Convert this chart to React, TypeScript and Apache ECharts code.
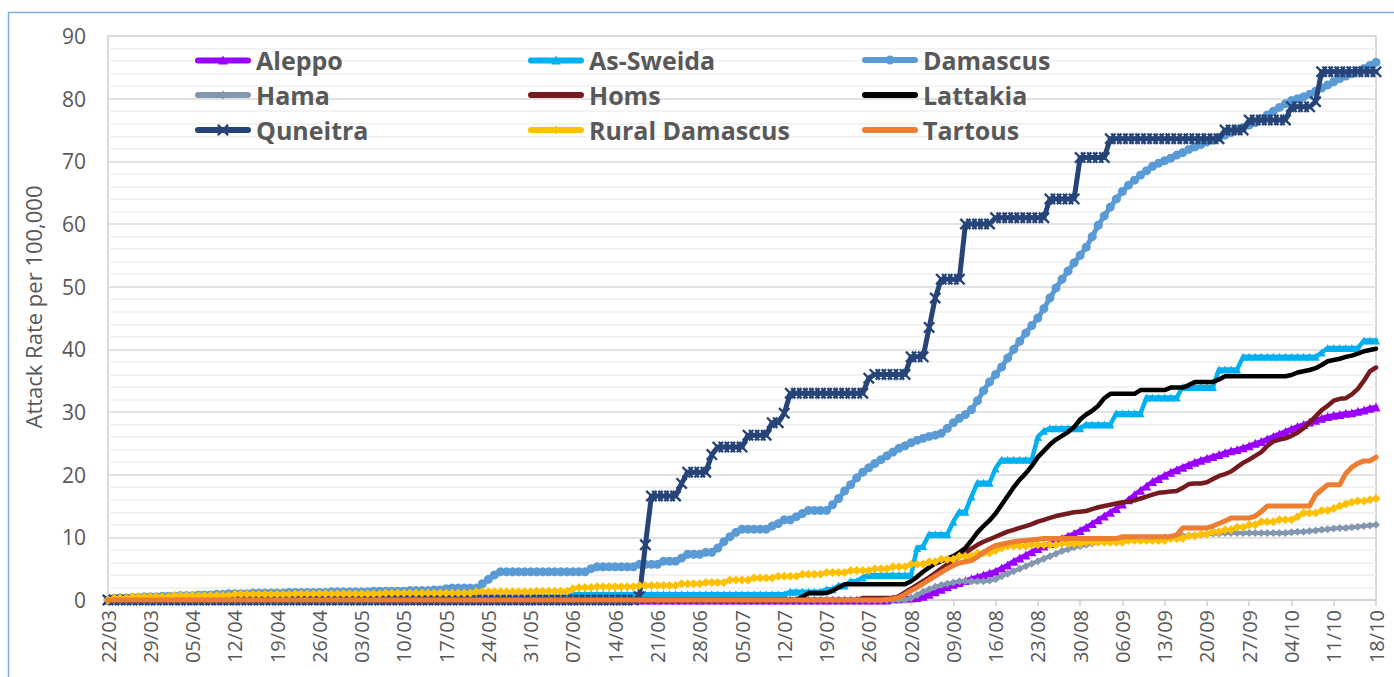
import React, { useEffect, useRef } from "react";
import * as echarts from "echarts";

// ---------- DATA ----------
const START_DATE = [2020, 2, 22]; // 22/03
const DAY_COUNT = 211;
const categories: string[] = [];
for (let i = 0; i < DAY_COUNT; i++) {
  const d = new Date(Date.UTC(START_DATE[0], START_DATE[1], START_DATE[2] + i));
  const dd = String(d.getUTCDate()).padStart(2, "0");
  const mm = String(d.getUTCMonth() + 1).padStart(2, "0");
  categories.push(dd + "/" + mm);
}

const yTicks = [0, 10, 20, 30, 40, 50, 60, 70, 80, 90];
const yTitle = "Attack Rate per 100,000";

const aleppo = [
  0,0,0,0,0,0,0,0,0,0, 0,0,0,0,0,0,0,0,0,0, 0,0,0,0,0,0,0,0,0,0, 0,0,0,0,0,0,0,0,0,0,
  0,0,0,0,0,0,0,0,0,0, 0,0,0,0,0,0,0,0,0,0, 0,0,0,0,0,0,0,0,0,0, 0,0,0,0,0,0,0,0,0,0,
  0,0,0,0,0,0,0,0,0,0, 0,0,0,0,0,0,0,0,0,0, 0,0,0,0,0,0,0,0,0,0, 0,0,0,0,0,0,0,0,0,0,
  0,0,0,0,0,0,0,0,0,0,
  0.2,0.2,0.3,0.3,0.4,0.6,0.9,1.3,1.7,2.1,
  2.5,2.8,3.1,3.4,3.7,4.0,4.3,4.6,5.1,5.6,
  6.2,6.7,7.2,7.7,8.2,8.6,9.0,9.4,9.8,10.2,
  10.6,11.1,11.6,12.2,12.8,13.4,14.0,14.6,15.3,16.0,
  16.8,17.5,18.2,18.9,19.4,19.9,20.4,20.8,21.2,21.6,
  22.0,22.3,22.6,22.9,23.2,23.5,23.8,24.0,24.3,24.6,
  25.0,25.3,25.7,26.1,26.5,26.9,27.3,27.7,28.0,28.4,
  28.7,29.0,29.3,29.5,29.6,29.8,29.9,30.1,30.3,30.6,
  30.8,
];

const asSweida = [
  0,0,0,0,0,0,0,0,0,0, 0,0,0,0,0,0,0,0,0,0, 0,0,0,0,0,0,0,0,0,0, 0,0,0,0,0,0,0,0,0,0,
  0,0,0,0,0,0.2,0.2,0.2,0.2,0.2,
  0.2,0.2,0.2,0.2,0.2,0.2,0.2,0.2,0.2,0.2,
  0.2,0.5,0.5,0.5,0.5,0.5,0.5,0.5,0.5,0.5,
  0.5,0.5,0.5,0.5,0.5,0.5,0.5,0.9,0.9,0.9,
  0.9,0.9,0.9,0.9,0.9,0.9,0.9,0.9,0.9,0.9,
  0.9,0.9,0.9,0.9,0.9,0.9,0.9,0.9,0.9,0.9,
  0.9,0.9,0.9,0.9,0.9,0.9,0.9,0.9,0.9,0.9,
  0.9,0.9,0.9,1.3,1.3,1.3,1.3,1.3,1.3,1.7,
  1.7,2.3,2.3,3.0,3.0,3.6,4.0,4.0,4.0,4.0,
  4.0,4.0,4.0,4.0,8.3,8.6,10.5,10.5,10.5,10.5,
  12.5,14.1,14.1,16.5,18.7,18.7,18.7,21.0,22.4,22.4,
  22.4,22.4,22.4,22.4,26.0,27.0,27.4,27.4,27.4,27.4,
  27.4,27.4,28.0,28.0,28.0,28.0,28.0,29.8,29.8,29.8,
  29.8,29.8,32.3,32.3,32.3,32.3,32.3,32.3,34.0,34.0,
  34.0,34.0,34.0,34.0,36.8,36.8,36.8,36.8,38.8,38.8,
  38.8,38.8,38.8,38.8,38.8,38.8,38.8,38.8,38.8,38.8,
  38.8,39.5,40.2,40.2,40.2,40.2,40.2,40.2,41.4,41.4,
  41.4,
];

const damascus = [
  0,0.2,0.3,0.3,0.4,0.4,0.5,0.5,0.5,0.6,
  0.6,0.6,0.7,0.7,0.7,0.8,0.8,0.8,0.9,0.9,
  1.0,1.0,1.0,1.0,1.1,1.1,1.1,1.1,1.1,1.1,
  1.2,1.2,1.2,1.2,1.2,1.2,1.2,1.3,1.3,1.3,
  1.3,1.3,1.3,1.3,1.4,1.4,1.4,1.4,1.4,1.4,
  1.5,1.5,1.5,1.5,1.6,1.6,1.8,1.9,1.9,1.9,
  1.9,1.9,2.6,3.3,4.0,4.5,4.5,4.5,4.5,4.5,
  4.5,4.5,4.5,4.5,4.5,4.5,4.5,4.5,4.5,4.5,
  5.0,5.3,5.3,5.3,5.3,5.3,5.3,5.3,5.7,5.7,
  5.7,5.7,6.2,6.2,6.2,6.7,7.3,7.3,7.3,7.6,
  7.6,8.3,9.3,10.1,10.8,11.3,11.3,11.3,11.3,11.3,
  11.8,12.2,12.8,12.8,13.3,13.8,14.3,14.3,14.3,14.3,
  15.2,16.2,17.4,18.4,19.5,20.4,21.1,21.8,22.4,23.0,
  23.6,24.2,24.6,25.1,25.5,25.8,26.1,26.3,26.6,27.4,
  28.3,29.0,29.6,30.4,31.8,33.4,34.8,36.0,37.2,38.6,
  40.0,41.3,42.6,43.8,45.0,46.5,48.2,49.8,51.2,52.5,
  53.8,55.0,56.3,58.0,59.8,61.3,62.7,64.0,65.2,66.2,
  67.0,67.8,68.5,69.2,69.7,70.1,70.5,71.0,71.4,71.9,
  72.3,72.7,73.1,73.4,73.8,74.2,74.6,75.0,75.4,75.8,
  76.2,76.8,77.4,78.0,78.6,79.2,79.7,80.0,80.3,80.7,
  81.2,81.7,82.2,82.7,83.2,83.6,84.0,84.4,84.8,85.3,
  85.8,
];

const hama = [
  0,0,0,0,0,0,0,0,0,0, 0,0,0,0,0,0,0,0,0,0, 0,0,0,0,0,0,0,0,0,0, 0,0,0,0,0,0,0,0,0,0,
  0,0,0,0,0,0,0,0,0,0, 0,0,0,0,0,0,0,0,0,0, 0,0,0,0,0,0,0,0,0,0, 0,0,0,0,0,0,0,0,0,0,
  0,0,0,0,0,0,0,0,0,0, 0,0,0,0,0,0,0,0,0,0, 0,0,0,0,0,0,0,0,0,0, 0,0,0,0,0,0,0,0,0,0,
  0,0,0,0,0,0,0,0,0,0,
  0,0,0,0.3,0.8,1.3,1.7,2.1,2.4,2.6,
  2.8,3.0,3.0,3.0,3.0,3.0,3.1,3.3,3.8,4.2,
  4.6,5.0,5.4,5.8,6.2,6.6,7.0,7.4,7.8,8.1,
  8.4,8.6,8.8,9.0,9.2,9.3,9.4,9.5,9.5,9.6,
  9.7,9.7,9.8,9.8,9.9,10.0,10.0,10.1,10.2,10.3,
  10.3,10.4,10.5,10.6,10.6,10.7,10.7,10.7,10.7,10.7,
  10.7,10.7,10.7,10.7,10.7,10.7,10.8,10.9,10.9,11.0,
  11.1,11.2,11.3,11.4,11.5,11.5,11.6,11.7,11.8,11.9,
  12.0,
];

const homs = [
  0,0,0,0,0,0,0,0,0,0, 0,0,0,0,0,0,0,0,0,0, 0,0,0,0,0,0,0,0,0,0, 0,0,0,0,0,0,0,0,0,0,
  0,0,0,0,0,0,0,0,0,0, 0,0,0,0,0,0,0,0,0,0, 0,0,0,0,0,0,0,0,0,0, 0,0,0,0,0,0,0,0,0,0,
  0,0,0,0,0,0,0,0,0,0, 0,0,0,0,0,0,0,0,0,0, 0,0,0,0,0,0,0,0,0,0, 0,0,0,0,0,0,0,0,0,0,
  0,0,0,0,0,0.3,0.3,0.3,0.3,0.3,
  0.3,0.6,1.2,1.8,2.4,3.0,3.6,4.3,5.0,5.7,
  6.3,6.9,7.5,8.2,8.8,9.3,9.7,10.1,10.5,10.9,
  11.2,11.5,11.8,12.1,12.5,12.8,13.1,13.4,13.6,13.8,
  14.0,14.1,14.2,14.5,14.8,15.0,15.2,15.4,15.6,15.7,
  15.9,16.2,16.5,16.8,17.1,17.2,17.3,17.4,17.9,18.5,
  18.6,18.6,18.8,19.3,19.8,20.1,20.5,21.2,21.9,22.4,
  23.0,23.6,24.6,25.3,25.6,25.8,26.2,26.7,27.4,28.3,
  29.3,30.3,31.0,31.8,32.1,32.2,32.8,33.7,35.0,36.5,
  37.1,
];

const lattakia = [
  0,0,0,0,0,0,0,0,0,0, 0,0,0,0,0,0,0,0,0,0, 0,0,0,0,0,0,0,0,0,0, 0,0,0,0,0,0,0,0,0,0,
  0,0,0,0,0,0,0,0,0,0, 0,0,0,0,0,0,0,0,0,0, 0,0,0,0,0,0,0,0,0,0, 0,0,0,0,0,0,0,0,0,0,
  0,0,0,0,0,0,0,0,0,0, 0,0,0,0,0,0,0,0,0,0, 0,0,0,0,0,0,0,0,0,0,
  0,0,0,0,0,0.5,1.1,1.1,1.1,1.1,
  1.5,2.0,2.5,2.5,2.5,2.5,2.5,2.5,2.5,2.5,
  2.5,2.5,2.5,3.0,3.7,4.5,5.2,5.8,6.2,6.6,
  7.0,7.6,8.3,9.5,10.8,11.8,12.7,13.8,15.2,16.6,
  18.0,19.2,20.2,21.4,22.8,23.8,24.8,25.6,26.2,26.8,
  27.6,28.8,29.6,30.2,31.0,32.2,32.9,32.9,32.9,32.9,
  32.9,33.5,33.5,33.5,33.5,33.5,33.9,33.9,33.9,34.3,
  34.8,34.8,34.8,34.8,35.2,35.7,35.7,35.7,35.7,35.7,
  35.7,35.7,35.7,35.7,35.7,35.7,35.9,36.3,36.5,36.7,
  37.0,37.5,38.1,38.3,38.5,38.8,39.0,39.3,39.7,39.9,
  40.1,
];

const quneitra = [
  0,0,0,0,0,0,0,0,0,0, 0,0,0,0,0,0,0,0,0,0, 0,0,0,0,0,0,0,0,0,0, 0,0,0,0,0,0,0,0,0,0,
  0,0,0,0,0,0,0,0,0,0, 0,0,0,0,0,0,0,0,0,0, 0,0,0,0,0,0,0,0,0,0, 0,0,0,0,0,0,0,0,0,0,
  0,0,0,0,0,0,0,0,0.5,8.8,
  16.6,16.6,16.6,16.6,16.6,18.6,20.4,20.4,20.4,20.4,
  23.2,24.4,24.4,24.4,24.4,24.4,26.3,26.3,26.3,26.3,
  28.3,28.3,29.8,33.0,33.0,33.0,33.0,33.0,33.0,33.0,
  33.0,33.0,33.0,33.0,33.0,33.0,35.4,36.0,36.0,36.0,
  36.0,36.0,36.0,38.8,38.8,38.8,43.5,48.2,51.2,51.2,
  51.2,51.2,60.0,60.0,60.0,60.0,60.0,61.0,61.0,61.0,
  61.0,61.0,61.0,61.0,61.0,61.0,64.0,64.0,64.0,64.0,
  64.0,70.6,70.6,70.6,70.6,70.6,73.6,73.6,73.6,73.6,
  73.6,73.6,73.6,73.6,73.6,73.6,73.6,73.6,73.6,73.6,
  73.6,73.6,73.6,73.6,73.6,75.0,75.0,75.0,75.0,76.6,
  76.6,76.6,76.6,76.6,76.6,76.6,78.7,78.7,78.7,78.7,
  79.5,84.3,84.3,84.3,84.3,84.3,84.3,84.3,84.3,84.3,
  84.3,
];

const ruralDamascus = [
  0,0.3,0.3,0.3,0.5,0.5,0.5,0.5,0.5,0.5,
  0.5,0.7,0.7,0.7,0.7,0.7,0.7,0.7,0.7,0.7,
  0.7,0.9,0.9,0.9,0.9,0.9,0.9,0.9,0.9,0.9,
  0.9,1.0,1.0,1.0,1.0,1.0,1.0,1.0,1.0,1.0,
  1.0,1.0,1.0,1.0,1.0,1.0,1.1,1.1,1.1,1.1,
  1.1,1.1,1.1,1.1,1.1,1.1,1.1,1.1,1.1,1.1,
  1.1,1.3,1.3,1.3,1.3,1.3,1.3,1.3,1.3,1.3,
  1.3,1.4,1.4,1.4,1.4,1.4,1.4,1.8,2.0,2.0,
  2.0,2.1,2.1,2.1,2.1,2.1,2.1,2.1,2.3,2.3,
  2.3,2.3,2.3,2.3,2.3,2.6,2.6,2.6,2.6,2.8,
  2.8,2.8,2.8,3.2,3.2,3.2,3.2,3.5,3.5,3.5,
  3.5,3.8,3.8,3.8,3.8,4.1,4.1,4.1,4.1,4.4,
  4.4,4.4,4.4,4.7,4.7,4.7,4.7,5.0,5.0,5.0,
  5.3,5.3,5.3,5.7,5.7,5.7,6.1,6.1,6.5,6.5,
  6.5,7.0,7.0,7.0,7.5,7.5,7.5,7.9,8.3,8.6,
  8.6,8.6,8.6,8.8,8.8,8.8,8.8,8.8,9.0,9.0,
  9.0,9.0,9.2,9.2,9.2,9.2,9.2,9.2,9.2,9.5,
  9.5,9.5,9.5,9.5,9.5,9.5,9.8,9.8,9.8,10.2,
  10.2,10.5,10.5,10.9,10.9,11.2,11.2,11.6,11.6,12.0,
  12.0,12.5,12.5,12.5,12.8,12.8,12.8,13.3,13.9,13.9,
  13.9,14.3,14.3,14.6,15.0,15.3,15.6,15.8,15.8,16.0,
  16.2,
];

const tartous = [
  0,0,0,0,0,0,0,0,0,0, 0,0,0,0,0,0,0,0,0,0, 0,0,0,0,0,0,0,0,0,0, 0,0,0,0,0,0,0,0,0,0,
  0,0,0,0,0,0,0,0,0,0, 0,0,0,0,0,0,0,0,0,0, 0,0,0,0,0,0,0,0,0,0, 0,0,0,0,0,0,0,0,0,0,
  0,0,0,0,0,0,0,0,0,0, 0,0,0,0,0,0,0,0,0,0, 0,0,0,0,0,0,0,0,0,0, 0,0,0,0,0,0,0,0,0,0,
  0,0,0,0,0,0,0,0,0,0.1,
  0.2,0.4,0.9,1.5,2.0,2.6,3.2,3.8,4.4,5.0,
  5.5,5.9,6.1,6.3,6.9,7.6,8.2,8.7,8.9,9.1,
  9.3,9.4,9.5,9.6,9.7,9.8,9.8,9.8,9.8,9.8,
  9.8,9.8,9.8,9.8,9.8,9.8,9.8,9.8,10.1,10.1,
  10.1,10.1,10.1,10.1,10.1,10.1,10.1,10.4,11.5,11.5,
  11.5,11.5,11.5,11.8,12.2,12.6,13.1,13.1,13.1,13.1,
  13.4,14.1,15.0,15.0,15.0,15.0,15.0,15.0,15.0,15.0,
  16.8,17.6,18.4,18.4,18.4,20.2,21.2,21.8,22.2,22.2,
  22.8,
];

const legendColumns = [
  ["Aleppo", "Hama", "Quneitra"],
  ["As-Sweida", "Homs", "Rural Damascus"],
  ["Damascus", "Lattakia", "Tartous"],
];

// ---------- STYLE ----------
const FONT = "'Open Sans', 'Noto Sans', sans-serif";
const TEXT = "#595959";
const X_SYMBOL =
  "path://M0,1.4 L1.4,0 L5,3.6 L8.6,0 L10,1.4 L6.4,5 L10,8.6 L8.6,10 L5,6.4 L1.4,10 L0,8.6 L3.6,5 Z";

// legend icons (56 x 14 box): thick rounded bar + marker
const BAR = "M3,4 L53,4 Q56,4 56,7 Q56,10 53,10 L3,10 Q0,10 0,7 Q0,4 3,4 Z";
const LEG_TRI = " M28,2 L32.8,10.8 L23.2,10.8 Z";
const LEG_DIAM = " M28,2.5 L32,7 L28,11.5 L24,7 Z";
const LEG_CIRC = " M23.5,7 A4.5,4.5 0 0 1 32.5,7 A4.5,4.5 0 0 1 23.5,7 Z";
const LEG_X =
  " M22,2.7 L23.7,1 L28,5.3 L32.3,1 L34,2.7 L29.7,7 L34,11.3 L32.3,13 L28,8.7 L23.7,13 L22,11.3 L26.3,7 Z";

const seriesDefs = [
  { name: "Aleppo", data: aleppo, color: "#9A00FF", symbol: "triangle", size: 9, width: 4.5, icon: BAR + LEG_TRI },
  { name: "As-Sweida", data: asSweida, color: "#00B0F0", symbol: "triangle", size: 8, width: 4.5, icon: BAR + LEG_TRI },
  { name: "Damascus", data: damascus, color: "#5B9BD5", symbol: "circle", size: 9, width: 5, icon: BAR + LEG_CIRC },
  { name: "Hama", data: hama, color: "#8497B0", symbol: "diamond", size: 8, width: 4, icon: BAR + LEG_DIAM },
  { name: "Homs", data: homs, color: "#751A1F", symbol: "none", size: 0, width: 4.5, icon: BAR },
  { name: "Lattakia", data: lattakia, color: "#000000", symbol: "none", size: 0, width: 4.5, icon: BAR },
  { name: "Quneitra", data: quneitra, color: "#264478", symbol: X_SYMBOL, size: 12, width: 5, icon: BAR + LEG_X },
  { name: "Rural Damascus", data: ruralDamascus, color: "#FFC000", symbol: "diamond", size: 9, width: 4, icon: BAR + LEG_DIAM },
  { name: "Tartous", data: tartous, color: "#ED7D31", symbol: "none", size: 0, width: 5, icon: BAR },
];

const legendLefts = [195, 528, 862];

function buildOption(): any {
  const iconOf: Record<string, string> = {};
  seriesDefs.forEach((s) => (iconOf[s.name] = "path://" + s.icon));
  return {
    animation: false,
    backgroundColor: "#ffffff",
    textStyle: { fontFamily: FONT },
    grid: {
      left: 108,
      right: 18,
      top: 36,
      bottom: 77,
      show: true,
      borderColor: "#D0D0D0",
      borderWidth: 1.5,
      containLabel: false,
    },
    graphic: [
      {
        type: "rect",
        shape: { x: 8.5, y: 12.5, width: 1420, height: 720 },
        style: { fill: "none", stroke: "#7FAEDF", lineWidth: 1.5 },
        silent: true,
        z: 100,
      },
      {
        type: "text",
        x: 33,
        y: 307,
        rotation: Math.PI / 2,
        silent: true,
        style: {
          text: yTitle,
          fill: TEXT,
          font: "22px " + FONT,
          align: "center",
          verticalAlign: "middle",
        },
      },
    ],
    legend: legendColumns.map((col, i) => ({
      data: col.map((n) => ({ name: n, icon: iconOf[n] })),
      orient: "vertical",
      left: legendLefts[i],
      top: 47,
      padding: 0,
      itemGap: 9,
      itemWidth: 56,
      itemHeight: 14,
      symbolKeepAspect: true,
      selectedMode: false,
      z: 30,
      itemStyle: { borderWidth: 0 },
      textStyle: {
        fontFamily: FONT,
        fontSize: 25,
        fontWeight: "bold",
        color: TEXT,
        lineHeight: 26,
      },
    })),
    xAxis: {
      type: "category",
      data: categories,
      boundaryGap: false,
      axisLine: { show: true, lineStyle: { color: "#D0D0D0", width: 1.5 } },
      axisTick: {
        show: true,
        interval: 6,
        length: 6,
        lineStyle: { color: "#D0D0D0", width: 1.5 },
      },
      axisLabel: {
        interval: 6,
        rotate: 90,
        margin: 10,
        color: TEXT,
        fontSize: 20,
        fontFamily: FONT,
      },
      splitLine: { show: false },
    },
    yAxis: {
      type: "value",
      min: yTicks[0],
      max: yTicks[yTicks.length - 1],
      interval: 10,
      axisLine: { show: false },
      axisTick: { show: false },
      axisLabel: { color: TEXT, fontSize: 21, margin: 22, fontFamily: FONT },
      splitLine: { show: true, lineStyle: { color: "#D9D9D9", width: 1.5 } },
      minorTick: { show: false, splitNumber: 5 },
      minorSplitLine: { show: true, lineStyle: { color: "#EFEFEF", width: 1.5 } },
    },
    series: seriesDefs.map((s, i) => ({
      name: s.name,
      type: "line",
      data: s.data,
      z: 3 + i,
      clip: false,
      symbol: s.symbol,
      symbolSize: s.size,
      showSymbol: s.symbol !== "none",
      showAllSymbol: true,
      lineStyle: { color: s.color, width: s.width, cap: "round", join: "round" },
      itemStyle: { color: s.color, borderColor: s.color, borderWidth: 0 },
      emphasis: { disabled: true },
      silent: true,
    })),
  };
}

export default function App() {
  const ref = useRef<HTMLDivElement>(null);
  useEffect(() => {
    if (!ref.current) return;
    const chart = echarts.init(ref.current, undefined, { renderer: "svg" });
    chart.setOption(buildOption());
    return () => {
      chart.dispose();
    };
  }, []);
  return (
    <div
      ref={ref}
      style={{
        position: "fixed",
        left: 0,
        top: 0,
        width: 1394,
        height: 677,
        background: "#ffffff",
      }}
    />
  );
}
